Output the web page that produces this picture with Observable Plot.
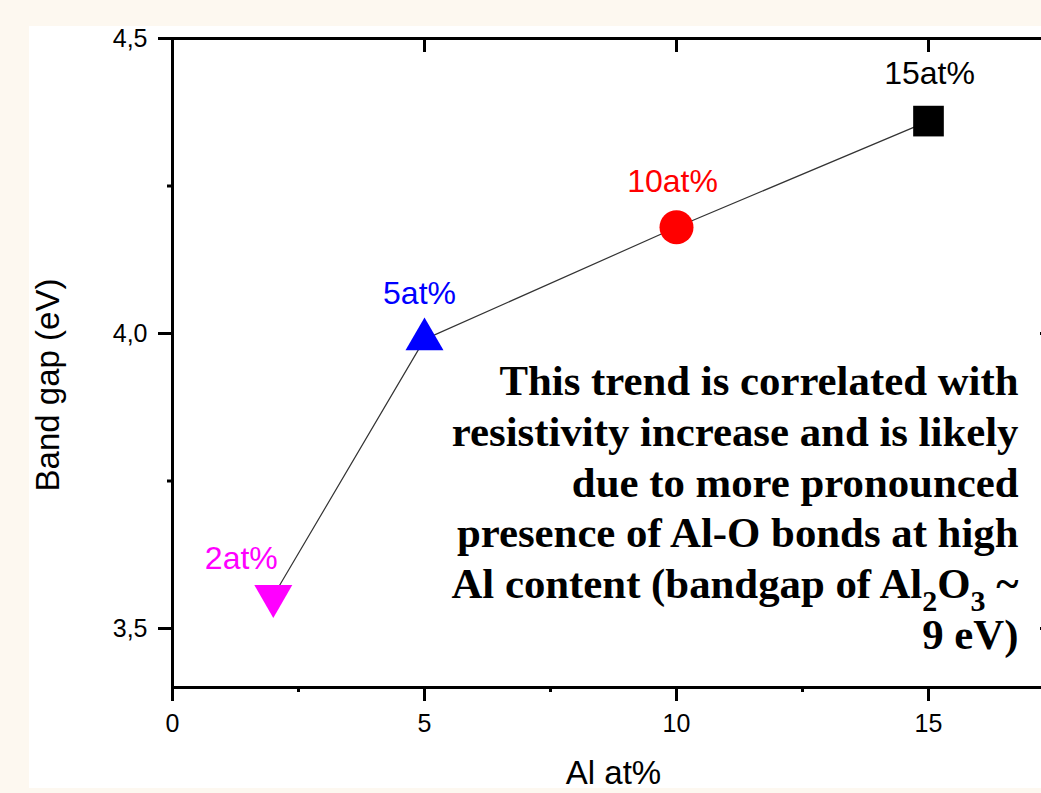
<!DOCTYPE html>
<html>
<head>
<meta charset="utf-8">
<script src="https://cdn.jsdelivr.net/npm/d3@7"></script>
<script src="https://cdn.jsdelivr.net/npm/@observablehq/plot@0.6"></script>
<style>
  html, body { margin: 0; padding: 0; overflow: hidden; background: #fdf8f0; }
  #wrap { position: relative; width: 1041px; height: 793px; overflow: hidden; }
  #panel { position: absolute; left: 29px; top: 26px; width: 1100px; height: 762px; background: #ffffff; }
  #chart { position: absolute; left: 0; top: 0; width: 1060px; height: 793px; }
  #chart svg { max-width: none !important; width: 1060px !important; height: 793px !important; }
</style>
</head>
<body>
<div id="wrap"><div id="panel"></div><div id="chart"></div></div>
<script>
// ---- data ----
const alContent = [2, 5, 10, 15];
const bandGap = [3.555, 3.99, 4.18, 4.36];
const pointLabels = ["2at%", "5at%", "10at%", "15at%"];
const xTicks = [0, 5, 10, 15];
const xMinorTicks = [2.5, 7.5, 12.5];
const yTicks = [3.5, 4.0, 4.5];
const yMinorTicks = [3.75, 4.25];
const xLabel = "Al at%";
const yLabel = "Band gap (eV)";
const annotationLines = [
  "This trend is correlated with",
  "resistivity increase and is likely",
  "due to more pronounced",
  "presence of Al-O bonds at high",
  "Al content (bandgap of Al\u2082O\u2083 ~",
  "9 eV)"
];

const rows = alContent.map((x, i) => ({x, y: bandGap[i], label: pointLabels[i]}));

// downward triangle symbol (same geometry as d3 triangle, flipped)
const triangleDown = {
  draw(context, size) {
    const y = Math.sqrt(size / (3 * Math.sqrt(3)));
    context.moveTo(0, 2 * y);
    context.lineTo(Math.sqrt(3) * y, -y);
    context.lineTo(-Math.sqrt(3) * y, -y);
    context.closePath();
  }
};

const markerStyle = [
  {symbol: triangleDown, fill: "#ff00ff", r: 14.1, dx: -32, dy: -37},
  {symbol: "triangle", fill: "#0000ff", r: 14.1, dx: -5, dy: -46},
  {symbol: "circle", fill: "#ff0000", r: 17, dx: -4, dy: -46},
  {symbol: "square", fill: "#000000", r: 17.3, dx: 1, dy: -47}
];

const W = 1060, H = 793;
const mL = 172, mR = 6, mT = 38, mB = 106;
const frameW = W - mL - mR, frameH = H - mT - mB;

const plot = Plot.plot({
  width: W,
  height: H,
  marginLeft: mL,
  marginRight: mR,
  marginTop: mT,
  marginBottom: mB,
  style: {background: "transparent", fontFamily: "'Liberation Sans', Arial, sans-serif", fontSize: "25px", color: "#000", maxWidth: "none"},
  x: {domain: [0, 17.5]},
  y: {domain: [3.4, 4.5]},
  marks: [
    // major ticks outward (bottom, left)
    Plot.axisX({ticks: xTicks, tickSize: 14, tickPadding: 13, strokeWidth: 3, fontSize: 25, label: null, tickFormat: d => String(d)}),
    Plot.axisY({ticks: yTicks, tickSize: 14, tickPadding: 11, strokeWidth: 3, fontSize: 25, label: null, tickFormat: d => d.toFixed(1).replace(".", ",")}),
    // minor ticks outward
    Plot.tickX(xMinorTicks, {x: d => d, stroke: "#000", strokeWidth: 3, insetTop: frameH, insetBottom: -5}),
    Plot.tickY(yMinorTicks, {y: d => d, stroke: "#000", strokeWidth: 3, insetRight: frameW, insetLeft: -5}),
    // inward major ticks on top and right
    Plot.tickX(xTicks, {x: d => d, stroke: "#000", strokeWidth: 3, insetBottom: frameH - 14}),
    Plot.tickY(yTicks, {y: d => d, stroke: "#000", strokeWidth: 3, insetLeft: frameW - 14}),
    Plot.frame({stroke: "#000", strokeWidth: 3}),
    // connecting line
    Plot.line(rows, {x: "x", y: "y", stroke: "#333", strokeWidth: 1.2}),
    // markers
    ...rows.map((d, i) => Plot.dot([d], {x: "x", y: "y", symbol: markerStyle[i].symbol, r: markerStyle[i].r, fill: markerStyle[i].fill, stroke: "none"})),
    // point labels
    ...rows.map((d, i) => Plot.text([d], {x: "x", y: "y", text: "label", fill: markerStyle[i].fill, fontSize: 32, dx: markerStyle[i].dx, dy: markerStyle[i].dy})),
    // annotation
    Plot.text([annotationLines.join("\n")], {
      text: d => d, frameAnchor: "top-right", textAnchor: "end", lineAnchor: "top",
      dx: -36, dy: 320, lineHeight: 1.19, fontSize: 42.8, fontWeight: "bold",
      fontFamily: "'Liberation Serif', 'Times New Roman', serif", fill: "#000"
    }),
    // axis labels
    Plot.text([yLabel], {text: d => d, frameAnchor: "left", textAnchor: "middle", lineAnchor: "middle", rotate: -90, dx: -124, dy: 22, fontSize: 33, fill: "#000"}),
    Plot.text([xLabel], {text: d => d, frameAnchor: "bottom", textAnchor: "middle", lineAnchor: "middle", dy: 86, fontSize: 33, fill: "#000"})
  ]
});

// render subscripts (Al2O3) as real shifted tspans
const subMap = {"\u2082": "2", "\u2083": "3"};
const ns = "http://www.w3.org/2000/svg";
plot.querySelectorAll("tspan, text").forEach(el => {
  if (el.children.length) return;
  const s = el.textContent;
  if (!/[\u2082\u2083]/.test(s)) return;
  el.textContent = "";
  let buf = "";
  let shifted = false;
  const flush = () => {
    if (!buf) return;
    const t = document.createElementNS(ns, "tspan");
    t.textContent = buf;
    if (shifted) t.setAttribute("dy", "-13");
    shifted = false;
    el.appendChild(t);
    buf = "";
  };
  for (const ch of s) {
    if (subMap[ch]) {
      flush();
      const t = document.createElementNS(ns, "tspan");
      t.textContent = subMap[ch];
      t.setAttribute("font-size", "30");
      t.setAttribute("dy", shifted ? "0" : "13");
      el.appendChild(t);
      shifted = true;
    } else {
      buf += ch;
    }
  }
  flush();
});

document.getElementById("chart").appendChild(plot);
</script>
</body>
</html>
